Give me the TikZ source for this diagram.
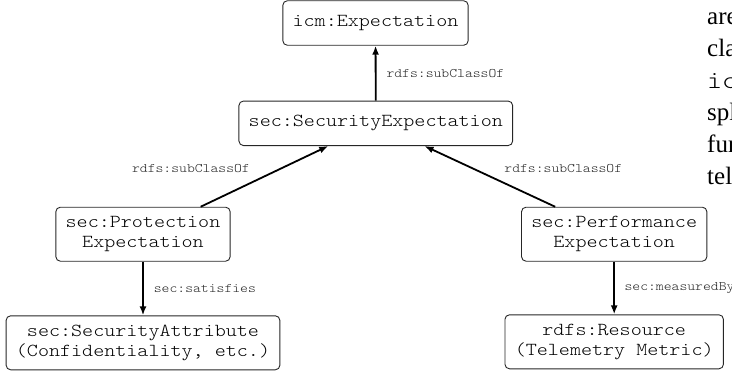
\documentclass[tikz,border=0pt]{standalone}
\usepackage{fontspec}
\setmainfont{Liberation Serif}
\setmonofont[FakeStretch=1.15]{lmmonolt10-regular.otf}
\usetikzlibrary{arrows.meta}
\newcommand{\boxfont}{\ttfamily\fontsize{18.3pt}{20pt}\selectfont}
\newcommand{\lblfont}{\ttfamily\fontsize{13pt}{15pt}\selectfont}
\newcommand{\pagefont}{\rmfamily\fontsize{25pt}{32pt}\selectfont}
\newcommand{\pagemono}{\ttfamily\fontsize{24.8pt}{32pt}\selectfont}
\tikzset{
  cls/.style={draw=black!85, line width=0.9pt, rounded corners=4.5pt,
    font=\boxfont, text=black, inner xsep=9.8pt, inner ysep=2pt,
    align=center, minimum height=44.5pt},
  cls2/.style={cls, minimum height=54pt},
  arr/.style={line width=1.8pt, -{Latex[length=9pt,width=7pt]}},
  lbl/.style={font=\lblfont, text=black!85, inner sep=0pt},
  frag/.style={font=\pagefont, anchor=base west, inner sep=0pt},
}
\begin{document}
\begin{tikzpicture}[x=1pt,y=-1pt]
\useasboundingbox (0,0) rectangle (732,373);
\node[cls]  (top)  at (375.5,23)   {icm:Expectation};
\node[cls]  (sec)  at (375.8,123.3) {sec:SecurityExpectation};
\node[cls2] (prot) at (143,234.2)  {sec:Protection\\Expectation};
\node[cls2] (perf) at (614.2,234.2) {sec:Performance\\Expectation};
\node[cls2] (attr) at (143,342.8)  {sec:SecurityAttribute\\(Confidentiality, etc.)};
\node[cls2] (res)  at (614.2,341.8) {rdfs:Resource\\(Telemetry Metric)};

\draw[arr] (sec) -- (top)
  node[lbl, midway, anchor=west, xshift=10pt] {rdfs:subClassOf};
\draw[arr] (prot) -- (sec)
  node[lbl, midway, anchor=south east, xshift=-13.7pt, yshift=3pt] {rdfs:subClassOf};
\draw[arr] (perf) -- (sec)
  node[lbl, midway, anchor=south west, xshift=13.7pt, yshift=3pt] {rdfs:subClassOf};
\draw[arr] (prot) -- (attr)
  node[lbl, midway, anchor=west, xshift=10pt] {sec:satisfies};
\draw[arr] (perf) -- (res)
  node[lbl, midway, anchor=west, xshift=9.5pt] {sec:measuredBy};

\node[frag] (f1) at (707,24)  {are};
\node[frag] (f2) at (707,56)  {cla};
\node[frag, font=\pagemono] (f3) at (707,88) {ic};
\node[frag] (f4) at (707,120) {spl};
\node[frag] (f5) at (707,152) {fur};
\node[frag] (f6) at (707,184) {tel};
\end{tikzpicture}
\end{document}
